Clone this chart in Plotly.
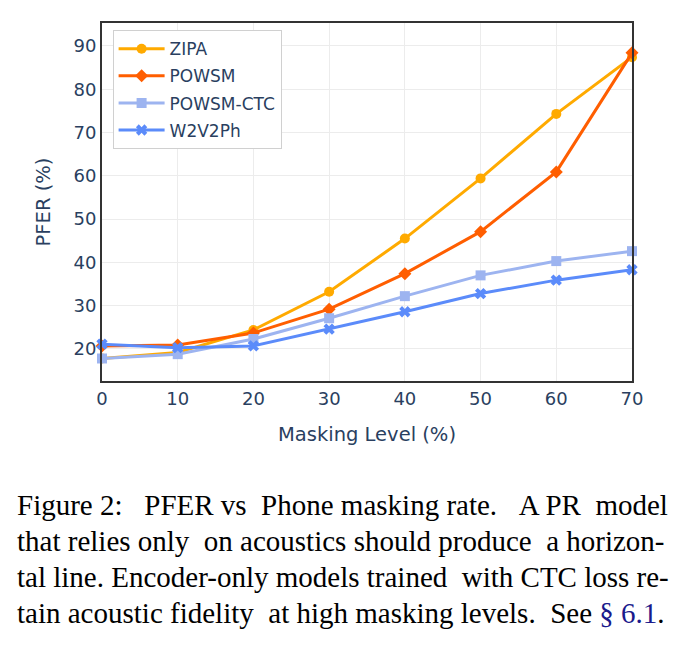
import plotly.graph_objects as go

masking = [0, 10, 20, 30, 40, 50, 60, 70]
zipa = [17.8, 19.2, 24.4, 33.2, 45.5, 59.4, 74.3, 87.4]
powsm = [20.7, 20.9, 23.7, 29.2, 37.4, 47.1, 60.9, 88.4]
powsm_ctc = [17.8, 18.8, 22.3, 27.1, 32.2, 37.0, 40.3, 42.6]
w2v2ph = [21.1, 20.3, 20.7, 24.6, 28.6, 32.8, 35.9, 38.3]

series = [
    ("ZIPA", zipa, "#FFAA00", "circle"),
    ("POWSM", powsm, "#FF5E00", "diamond"),
    ("POWSM-CTC", powsm_ctc, "#9DB4F0", "square"),
    ("W2V2Ph", w2v2ph, "#5B8BFA", "x"),
]

NB = "\u00a0"
caption_lines = [
    "Figure 2: " + NB * 2 + "PFER vs" + NB + " Phone masking rate. " + NB * 2 + "A PR" + NB + " model",
    "that relies only" + NB + " on acoustics should produce" + NB + " a horizon-",
    "tal line. Encoder-only models trained" + NB + " with CTC loss re-",
    "tain acoustic fidelity" + NB + " at high masking levels." + NB + " See <span style='color:#1a1a8c'>§ 6.1</span>.",
]

fig = go.Figure()
for name, vals, color, sym in series:
    fig.add_trace(go.Scatter(
        x=masking, y=vals, name=name, mode="lines+markers",
        legendgroup=name,
        line=dict(color=color, width=3),
        marker=dict(color=color, symbol=sym, size=10),
        cliponaxis=False,
    ))

font_color = "#2a3f5f"
fig.update_layout(
    width=686, height=646, autosize=False,
    margin=dict(l=102, r=54, t=23, b=265),
    paper_bgcolor="white", plot_bgcolor="white",
    font=dict(family="DejaVu Sans", size=17, color=font_color),
    legend=dict(
        x=0.02, y=0.98, xanchor="left", yanchor="top",
        bordercolor="#d0d0d0", borderwidth=1, bgcolor="white",
        font=dict(size=17, color=font_color),
        itemwidth=46,
        tracegroupgap=2,
    ),
    showlegend=True,
)
fig.update_xaxes(
    range=[0, 70], tickvals=masking, showgrid=True, gridcolor="#ececec",
    showline=True, linecolor="#333333", linewidth=2, mirror=True,
    zeroline=False, ticks="",
    title=dict(text="Masking Level (%)", font=dict(size=19.5), standoff=20),
    tickfont=dict(size=18),
)
fig.update_yaxes(
    range=[12.6, 95.3], tickvals=[20, 30, 40, 50, 60, 70, 80, 90],
    showgrid=True, gridcolor="#ececec",
    showline=True, linecolor="#333333", linewidth=2, mirror=True,
    zeroline=False, ticks="",
    title=dict(text="PFER (%)", font=dict(size=19.5), standoff=18),
    tickfont=dict(size=18),
)

for i, line in enumerate(caption_lines):
    fig.add_annotation(
        text=line, xref="paper", yref="paper",
        x=-102 / 530 + 15 / 530, y=0, xanchor="left", yanchor="middle",
        yshift=-(505 - 381) - 36 * i,
        showarrow=False, align="left",
        font=dict(family="Liberation Serif", size=29, color="black"),
    )

fig.write_html("out.html")
